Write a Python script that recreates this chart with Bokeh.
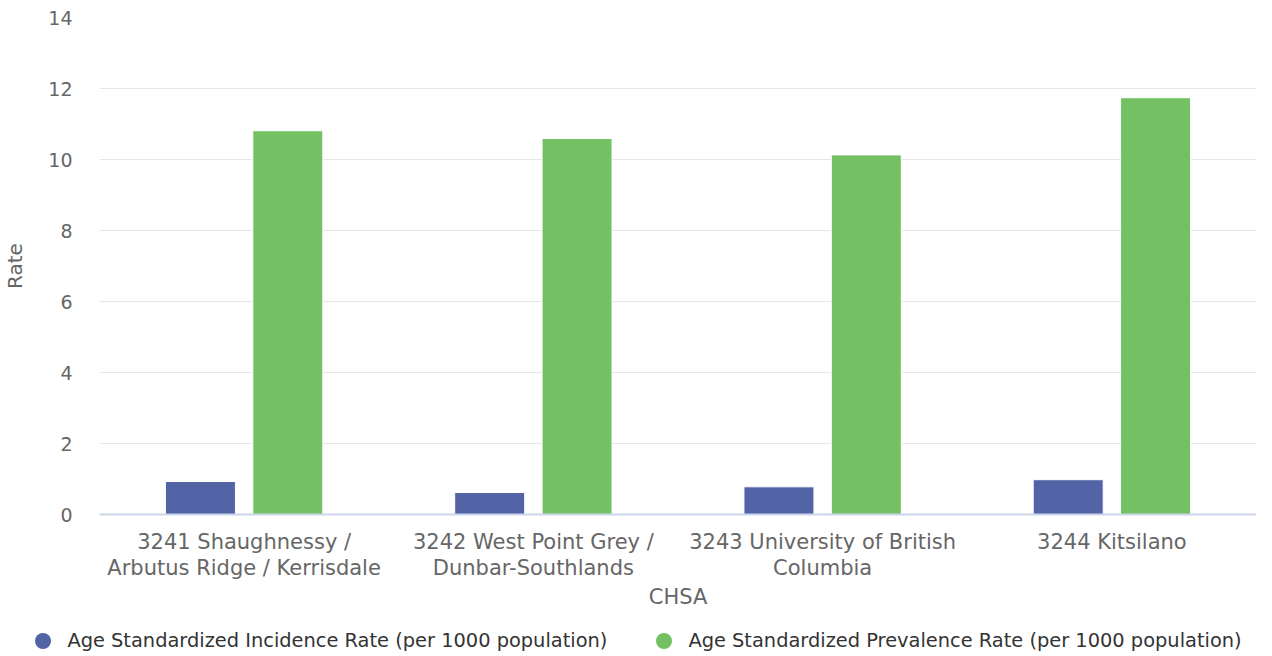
from bokeh.plotting import figure
from bokeh.layouts import column
from bokeh.models import FactorRange, Range1d, SingleIntervalTicker, ColumnDataSource, Div
from bokeh.transform import dodge
from bokeh.embed import file_html
from bokeh.resources import INLINE

categories = [
    "3241 Shaughnessy /\nArbutus Ridge / Kerrisdale",
    "3242 West Point Grey /\nDunbar-Southlands",
    "3243 University of British\nColumbia",
    "3244 Kitsilano",
]
incidence = [0.93, 0.62, 0.78, 0.98]
prevalence = [10.81, 10.59, 10.13, 11.74]
series_names = [
    "Age Standardized Incidence Rate (per 1000 population)",
    "Age Standardized Prevalence Rate (per 1000 population)",
]
colors = ["#5263a6", "#73c163"]

FONT = "DejaVu Sans"

src = ColumnDataSource(dict(cat=categories, inc=incidence, prev=prevalence))

p = figure(
    width=1256, height=620,
    x_range=FactorRange(factors=categories),
    y_range=Range1d(0, 14),
    output_backend="svg", toolbar_location=None,
    min_border_left=0, min_border_right=0, min_border_top=17, min_border_bottom=106,
)
p.outline_line_color = None
p.background_fill_color = "white"

p.vbar(x=dodge("cat", -0.151, range=p.x_range), top="inc", width=0.242,
       source=src, fill_color=colors[0], line_color="white", line_width=1)
p.vbar(x=dodge("cat", 0.151, range=p.x_range), top="prev", width=0.242,
       source=src, fill_color=colors[1], line_color="white", line_width=1)

# grid
p.xgrid.grid_line_color = None
p.ygrid.grid_line_color = "#e6e6e6"
p.ygrid.grid_line_width = 1

# y axis
p.yaxis.ticker = SingleIntervalTicker(interval=2)
p.yaxis.axis_line_color = None
p.yaxis.major_tick_line_color = None
p.yaxis.minor_tick_line_color = None
p.yaxis.major_label_text_font = FONT
p.yaxis.major_label_text_font_size = "19px"
p.yaxis.major_label_text_color = "#666666"
p.yaxis.major_label_standoff = 21
p.yaxis.axis_label = "Rate"
p.yaxis.axis_label_text_font = FONT
p.yaxis.axis_label_text_font_size = "20px"
p.yaxis.axis_label_text_font_style = "normal"
p.yaxis.axis_label_text_color = "#666666"
p.yaxis.axis_label_standoff = 18

# x axis
p.xaxis.axis_line_color = "#ccd6eb"
p.xaxis.axis_line_width = 2
p.xaxis.major_tick_line_color = None
p.xaxis.minor_tick_line_color = None
p.xaxis.major_label_text_font = FONT
p.xaxis.major_label_text_font_size = "21px"
p.xaxis.major_label_text_color = "#666666"
p.xaxis.major_label_standoff = 9
p.xaxis.major_label_text_line_height = 1.1
p.xaxis.axis_label = "CHSA"
p.xaxis.axis_label_text_font = FONT
p.xaxis.axis_label_text_font_size = "21px"
p.xaxis.axis_label_text_font_style = "normal"
p.xaxis.axis_label_text_color = "#666666"
p.xaxis.axis_label_standoff = 2

# legend row (HTML, centred under the chart)
item_html = []
for name, col in zip(series_names, colors):
    item_html.append(
        '<span style="display:inline-flex;align-items:center;white-space:nowrap">'
        f'<span style="display:inline-block;width:16px;height:16px;border-radius:50%;'
        f'background:{col};margin-right:16px"></span>{name}</span>'
    )
legend_html = (
    '<div style="display:flex;justify-content:center;align-items:center;gap:49px;'
    'box-sizing:border-box;padding-left:21px;padding-top:6px;'
    f'width:1256px;height:36px;font-family:\'{FONT}\';font-size:19.4px;color:#333333">'
    + "".join(item_html) + "</div>"
)
lg = Div(text=legend_html, width=1256, height=36, margin=0)

layout = column(p, lg, spacing=0)

open("out.html", "w").write(file_html(layout, INLINE))
